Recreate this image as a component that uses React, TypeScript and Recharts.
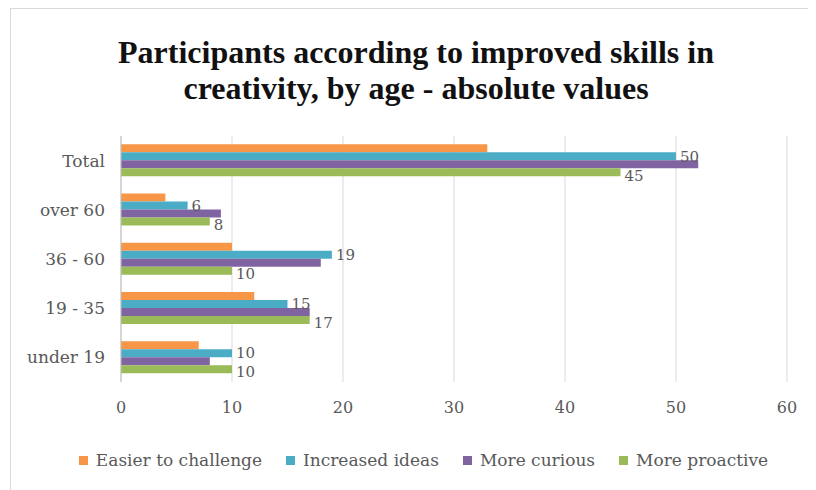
import React from 'react';
import { BarChart, Bar, XAxis, YAxis, CartesianGrid, Legend, LabelList } from 'recharts';

const ageGroups = ['Total', 'over 60', '36 - 60', '19 - 35', 'under 19'];
const easierToChallenge = [33, 4, 10, 12, 7];
const increasedIdeas = [50, 6, 19, 15, 10];
const moreCurious = [52, 9, 18, 17, 8];
const moreProactive = [45, 8, 10, 17, 10];
const xTicks = [0, 10, 20, 30, 40, 50, 60];

const chartData = ageGroups.map((name, i) => ({
  name,
  'Easier to challenge': easierToChallenge[i],
  'Increased ideas': increasedIdeas[i],
  'More curious': moreCurious[i],
  'More proactive': moreProactive[i],
}));

const FONT = '"DejaVu Serif", "Liberation Serif", serif';
const TITLE_FONT = '"Liberation Serif", serif';

// legend drawn by hand so the spacing matches
const renderLegend = (props: any) => {
  const { payload } = props;
  return (
    <div style={{ display: 'flex', justifyContent: 'center', paddingLeft: 52, fontFamily: FONT, fontSize: 17, color: '#595959' }}>
      {payload.map((entry: any, i: number) => (
        <div key={entry.value} style={{ display: 'flex', alignItems: 'center', marginRight: i < payload.length - 1 ? 24 : 0 }}>
          <span style={{ display: 'inline-block', width: 9, height: 9, background: entry.color, marginRight: 8 }} />
          <span style={{ fontFamily: FONT }}>{entry.value}</span>
        </div>
      ))}
    </div>
  );
};

const App: React.FC = () => {
  return (
    <div style={{ position: 'relative', width: 808, height: 482, fontFamily: FONT }}>
      <div
        style={{
          position: 'absolute', left: 2, top: 0, width: 820, height: 490,
          border: '1px solid #d9d9d9', boxSizing: 'border-box',
        }}
      />
      <div
        style={{
          position: 'absolute', left: 0, top: 26, width: 816, textAlign: 'center',
          fontFamily: TITLE_FONT, fontSize: 32, fontWeight: 'bold', lineHeight: '36px', color: '#111',
        }}
      >
        Participants according to improved skills in
        <br />
        creativity, by age - absolute values
      </div>
      <div style={{ position: 'absolute', left: 0, top: 0 }}>
        <BarChart
          width={800}
          height={482}
          data={chartData}
          layout="vertical"
          margin={{ top: 128, right: 21, left: 0, bottom: 48 }}
          barCategoryGap="17%"
          barGap={0}
        >
          <CartesianGrid horizontal={false} stroke="#d9d9d9" />
          <XAxis
            type="number"
            domain={[0, 60]}
            ticks={xTicks}
            axisLine={false}
            tickLine={false}
            tick={{ fill: '#595959', fontSize: 16, fontFamily: FONT }}
            tickMargin={14}
            height={40}
          />
          <YAxis
            type="category"
            dataKey="name"
            width={113}
            axisLine={{ stroke: '#bfbfbf' }}
            tickLine={false}
            tick={{ fill: '#595959', fontSize: 17, fontFamily: FONT }}
            tickMargin={10}
          />
          <Legend
            verticalAlign="bottom"
            content={renderLegend}
            wrapperStyle={{ bottom: 20 }}
          />
          <Bar dataKey="Easier to challenge" fill="#F79646" isAnimationActive={false} />
          <Bar dataKey="Increased ideas" fill="#4BACC6" isAnimationActive={false}>
            <LabelList dataKey="Increased ideas" position="right" offset={4} dy={0} fill="#595959" fontSize={15} fontFamily={FONT} />
          </Bar>
          <Bar dataKey="More curious" fill="#8064A2" isAnimationActive={false} />
          <Bar dataKey="More proactive" fill="#9BBB59" isAnimationActive={false}>
            <LabelList dataKey="More proactive" position="right" offset={4} dy={3} fill="#595959" fontSize={15} fontFamily={FONT} />
          </Bar>
        </BarChart>
      </div>
    </div>
  );
};

export default App;
